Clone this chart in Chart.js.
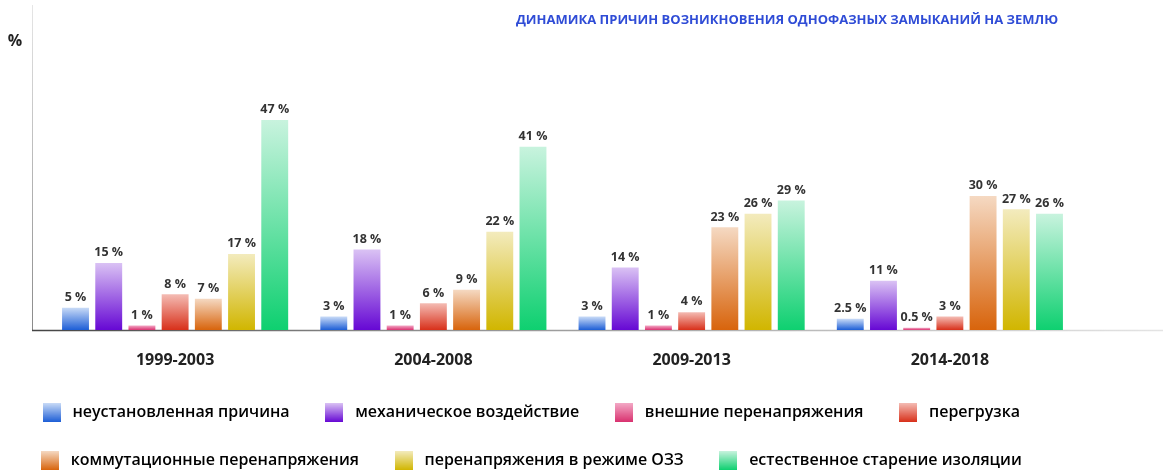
<!DOCTYPE html>
<html>
<head>
<meta charset="utf-8">
<script src="https://cdn.jsdelivr.net/npm/chart.js@4"></script>
<style>
  html, body { margin: 0; padding: 0; background: #fff; }
</style>
</head>
<body>
<canvas id="chart" width="1163" height="472"></canvas>
<script>
// periods and shares of each cause, %
const periods = ['1999-2003', '2004-2008', '2009-2013', '2014-2018'];

const unknownCause = [5, 3, 3, 2.5];
const mechanical = [15, 18, 14, 11];
const externalOvervolt = [1, 1, 1, 0.5];
const overload = [8, 6, 4, 3];
const switchingOvervolt = [7, 9, 23, 30];
const ozzOvervolt = [17, 22, 26, 27];
const insulationAging = [47, 41, 29, 26];

const seriesNames = [
  'неустановленная причина',
  'механическое воздействие',
  'внешние перенапряжения',
  'перегрузка',
  'коммутационные перенапряжения',
  'перенапряжения в режиме ОЗЗ',
  'естественное старение изоляции'
];

// light (top) -> saturated (bottom)
const colors = [
  ['#c9dbf7', '#1d5ed6'],
  ['#dac2f4', '#6608d4'],
  ['#f3a9c6', '#d9316f'],
  ['#f4bcb4', '#d8301a'],
  ['#f5d9c2', '#d8640c'],
  ['#f3ebbd', '#d1b600'],
  ['#c8f3de', '#0ed070']
];

// vertical gradient sized to each bar
function barGradient(top, bottom) {
  return function (ctx) {
    const chart = ctx.chart;
    const y = chart.scales.y;
    if (!y || ctx.type !== 'data') return bottom;
    const y0 = y.getPixelForValue(0);
    const y1 = y.getPixelForValue(ctx.raw);
    if (!isFinite(y0) || !isFinite(y1) || Math.abs(y0 - y1) < 1) return bottom;
    const g = chart.ctx.createLinearGradient(0, y1, 0, y0);
    g.addColorStop(0, top);
    g.addColorStop(1, bottom);
    return g;
  };
}

function legendSwatch(top, bottom) {
  const c = document.createElement('canvas');
  c.width = 18;
  c.height = 19;
  const x = c.getContext('2d');
  const g = x.createLinearGradient(0, 0, 0, 19);
  g.addColorStop(0, top);
  g.addColorStop(1, bottom);
  x.fillStyle = g;
  x.fillRect(0, 0, 18, 19);
  return c;
}

const values = [unknownCause, mechanical, externalOvervolt, overload, switchingOvervolt, ozzOvervolt, insulationAging];

const datasets = values.map((v, i) => ({
  label: seriesNames[i],
  data: v,
  backgroundColor: barGradient(colors[i][0], colors[i][1]),
  borderWidth: 0,
  categoryPercentage: 0.9,
  barPercentage: 0.81
}));

const swatches = colors.map(c => legendSwatch(c[0], c[1]));

const extras = {
  id: 'extras',
  afterLayout(chart) {
    // legend centre and title position as in the picture
    const lg = chart.legend;
    lg.left -= 10; lg.right -= 10;
    lg.top += 6.5; lg.bottom += 6.5;
    const t = chart.titleBlock;
    const shift = 787 - (t.left + t.right) / 2;
    t.left += shift; t.right += shift;
  },
  beforeDatasetsDraw(chart) {
    const ctx = chart.ctx;
    const base = chart.chartArea.bottom + 0.5;
    ctx.save();
    let g = ctx.createLinearGradient(0, 5, 0, base);
    g.addColorStop(0, '#e6e6e6');
    g.addColorStop(1, '#8a8a8a');
    ctx.strokeStyle = g;
    ctx.lineWidth = 1;
    ctx.beginPath();
    ctx.moveTo(32.5, 5);
    ctx.lineTo(32.5, base);
    ctx.stroke();
    g = ctx.createLinearGradient(32, 0, chart.width, 0);
    g.addColorStop(0, '#444');
    g.addColorStop(0.3, '#888');
    g.addColorStop(1, '#e4e4e4');
    ctx.strokeStyle = g;
    ctx.lineWidth = 1.5;
    ctx.beginPath();
    ctx.moveTo(32, base);
    ctx.lineTo(chart.width, base);
    ctx.stroke();
    ctx.restore();
  },
  afterDatasetsDraw(chart) {
    const ctx = chart.ctx;
    ctx.save();
    ctx.font = 'bold 12.5px "Open Sans"';
    ctx.fillStyle = '#333';
    ctx.textAlign = 'center';
    ctx.textBaseline = 'bottom';
    chart.data.datasets.forEach((ds, i) => {
      chart.getDatasetMeta(i).data.forEach((bar, j) => {
        ctx.fillText(ds.data[j] + ' %', bar.x, bar.y - 4);
      });
    });
    ctx.font = 'bold 16px "Open Sans"';
    ctx.fillStyle = '#222';
    ctx.textBaseline = 'middle';
    ctx.fillText('%', 15, 41);
    ctx.restore();
  }
};

new Chart(document.getElementById('chart'), {
  type: 'bar',
  data: { labels: periods, datasets: datasets },
  plugins: [extras],
  options: {
    responsive: false,
    animation: false,
    layout: { padding: { left: 0, right: 84, top: 0, bottom: 0 } },
    plugins: {
      title: {
        display: true,
        text: 'ДИНАМИКА ПРИЧИН ВОЗНИКНОВЕНИЯ ОДНОФАЗНЫХ ЗАМЫКАНИЙ НА ЗЕМЛЮ',
        color: '#2f4cd6',
        font: { family: 'Open Sans', size: 13, weight: 'bold' },
        padding: { top: 12, bottom: 12 }
      },
      legend: {
        position: 'bottom',
        labels: {
          usePointStyle: true,
          pointStyleWidth: 25.5,
          padding: 32,
          color: '#222',
          font: { family: 'Open Sans', size: 16, weight: '600' },
          generateLabels: chart => chart.data.datasets.map((ds, i) => ({
            text: ds.label,
            pointStyle: swatches[i],
            fillStyle: colors[i][1],
            strokeStyle: 'transparent',
            lineWidth: 0,
            hidden: false,
            datasetIndex: i
          }))
        }
      },
      tooltip: { enabled: false }
    },
    scales: {
      x: {
        grid: { display: false, drawTicks: false },
        border: { display: false },
        ticks: {
          padding: 21,
          color: '#222',
          font: { family: 'Open Sans', size: 16, weight: 'bold' }
        },
        afterFit: scale => { scale.height = 36; }
      },
      y: {
        min: 0,
        max: 65,
        grid: { display: false, drawTicks: false },
        border: { display: false },
        ticks: { display: false },
        afterFit: scale => { scale.width = 46; }
      }
    }
  }
});
</script>
</body>
</html>
